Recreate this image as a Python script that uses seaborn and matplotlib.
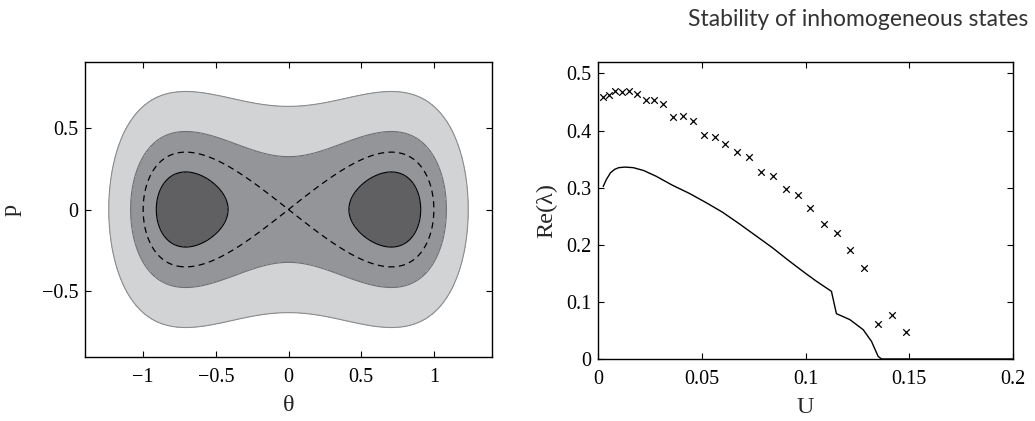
import numpy as np
import pandas as pd
import matplotlib
matplotlib.use("Agg")
import matplotlib.pyplot as plt
import seaborn as sns

# Phase portrait: H(theta, p) = p^2/2 + a*(theta^4 - theta^2)
well_coeff = 0.245
energy_levels = [-0.035, 0.052, 0.198]   # boundaries of the shaded bands
separatrix_level = 0.0
band_colors = ["#606062", "#939598", "#d1d3d4"]
band_edge_colors = ["#000000", "#6d6e71", "#8a8c8e"]

# Growth rate of perturbations vs U
cross_u = [0.0024, 0.0052, 0.0084, 0.0114, 0.0150, 0.0190, 0.0230, 0.0270,
           0.0315, 0.0362, 0.0410, 0.0458, 0.0510, 0.0562, 0.0614, 0.0670,
           0.0727, 0.0784, 0.0843, 0.0904, 0.0964, 0.1024, 0.1088, 0.1150,
           0.1215, 0.1280, 0.1347, 0.1416, 0.1484]
cross_re = [0.459, 0.463, 0.469, 0.467, 0.470, 0.464, 0.453, 0.454,
            0.446, 0.423, 0.425, 0.416, 0.392, 0.388, 0.377, 0.362,
            0.353, 0.327, 0.321, 0.297, 0.287, 0.265, 0.237, 0.220,
            0.191, 0.159, 0.0613, 0.0764, 0.0473]

line_u = [0.0025, 0.004, 0.006, 0.008, 0.010, 0.013, 0.017, 0.022, 0.028,
          0.036, 0.044, 0.052, 0.060, 0.068, 0.076, 0.084, 0.092, 0.100,
          0.1053, 0.1125, 0.1149, 0.1214, 0.1278, 0.1318, 0.1350, 0.1366, 0.2]
line_re = [0.302, 0.314, 0.326, 0.332, 0.335, 0.336, 0.335, 0.330, 0.320,
           0.304, 0.290, 0.274, 0.257, 0.237, 0.216, 0.195, 0.172, 0.150,
           0.136, 0.1185, 0.0794, 0.0689, 0.0513, 0.0309, 0.0046, 0.0, 0.0]

left_xticks = [-1, -0.5, 0, 0.5, 1]
left_yticks = [-0.5, 0, 0.5]
right_xticks = [0, 0.05, 0.1, 0.15, 0.2]
right_xticklabels = ["0", "0.05", "0.1", "0.15", "0.2"]
right_yticks = [0, 0.1, 0.2, 0.3, 0.4, 0.5]
right_yticklabels = ["0", "0.1", "0.2", "0.3", "0.4", "0.5"]

sns.set_style("ticks")
plt.rcParams.update({
    "font.family": ["Liberation Serif", "DejaVu Serif"],
    "axes.edgecolor": "black",
    "axes.linewidth": 1.0,
    "xtick.direction": "in",
    "ytick.direction": "in",
    "xtick.top": True,
    "ytick.right": True,
    "xtick.major.size": 4,
    "ytick.major.size": 4,
    "xtick.color": "black",
    "ytick.color": "black",
    "xtick.labelsize": 14.5,
    "ytick.labelsize": 14.5,
    "axes.labelsize": 17.5,
    "contour.negative_linestyle": "solid",
})

fig = plt.figure(figsize=(10.35, 4.21), dpi=100)
ax1 = fig.add_axes([85 / 1035, 1 - 357 / 421, 407 / 1035, 295 / 421])
ax2 = fig.add_axes([598 / 1035, 1 - 359 / 421, 415 / 1035, 297 / 421])

# ---- left: energy bands in phase space
theta = np.linspace(-1.4, 1.4, 601)
p = np.linspace(-0.9, 0.9, 501)
T, P = np.meshgrid(theta, p)
H = 0.5 * P ** 2 + well_coeff * (T ** 4 - T ** 2)

fill_levels = [-1.0] + energy_levels
ax1.contourf(T, P, H, levels=fill_levels, colors=band_colors)
for lev, ec in zip(energy_levels, band_edge_colors):
    ax1.contour(T, P, H, levels=[lev], colors=[ec], linewidths=0.8,
                linestyles="solid")
ax1.contour(T, P, H, levels=[separatrix_level], colors="black",
            linewidths=0.9, linestyles=[(0, (5, 3.5))])

ax1.set_xlim(-1.4, 1.4)
ax1.set_ylim(-0.9, 0.9)
ax1.set_xticks(left_xticks)
ax1.set_xticklabels(["\u22121", "\u22120.5", "0", "0.5", "1"])
ax1.set_yticks(left_yticks)
ax1.set_yticklabels(["\u22120.5", "0", "0.5"])
ax1.set_xlabel("\u03b8", labelpad=6)
ax1.set_ylabel("p", labelpad=14)

# ---- right: growth rate
df_cross = pd.DataFrame({"U": cross_u, "Re": cross_re})
df_line = pd.DataFrame({"U": line_u, "Re": line_re})
sns.lineplot(data=df_line, x="U", y="Re", ax=ax2, color="black",
             linewidth=1.0, sort=False)
sns.scatterplot(data=df_cross, x="U", y="Re", ax=ax2, marker="x",
                color="black", s=22, linewidth=0.9)

ax2.set_xlim(0, 0.2)
ax2.set_ylim(0, 0.52)
ax2.set_xticks(right_xticks)
ax2.set_xticklabels(right_xticklabels)
ax2.set_yticks(right_yticks)
ax2.set_yticklabels(right_yticklabels)
ax2.set_xlabel("U", labelpad=6)
ax2.set_ylabel("Re(\u03bb)", labelpad=6)

for ax in (ax1, ax2):
    ax.tick_params(which="both", top=True, right=True, direction="in")
    ax.tick_params(axis="x", pad=8)
    ax.tick_params(axis="y", pad=5)
    for s in ax.spines.values():
        s.set_visible(True)
        s.set_color("black")

fig.text(1028 / 1035, 1 - 26.5 / 421, "Stability of inhomogeneous states",
         ha="right", va="baseline", fontsize=16.5, color="#333333",
         family=["Lato", "DejaVu Sans"])

fig.savefig("out.png", dpi=100)
